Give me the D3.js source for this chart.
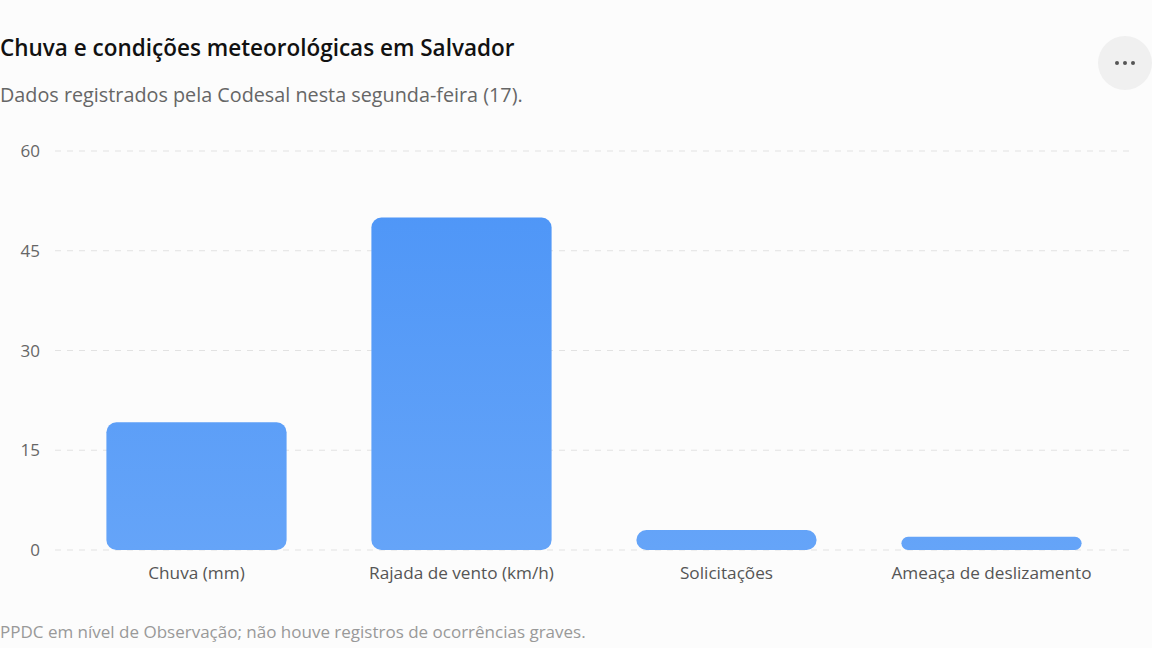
<!DOCTYPE html>
<html><head><meta charset="utf-8">
<script src="https://cdn.jsdelivr.net/npm/d3@7"></script>
<style>
body{margin:0;background:#fcfcfc;font-family:"Open Sans","Noto Sans",sans-serif}
</style></head>
<body><svg id="chart" width="1152" height="648"></svg>
<script>
const categories = ['Chuva (mm)', 'Rajada de vento (km/h)', 'Solicitações', 'Ameaça de deslizamento']
const values = [19.2, 50, 3, 2]
const yTicks = [0, 15, 30, 45, 60]

const svg = d3.select('#chart')
svg.append('rect').attr('width', 1152).attr('height', 648).attr('fill', '#fcfcfc')

const x = d3.scaleBand().domain(categories).range([64, 1124]).paddingInner(0.32).paddingOuter(0.16)
const y = d3.scaleLinear().domain([0, 60]).range([550, 151])

const grad = svg.append('defs').append('linearGradient').attr('id', 'barGrad')
    .attr('gradientUnits', 'userSpaceOnUse').attr('x1', 0).attr('x2', 0).attr('y1', 151).attr('y2', 550)
grad.append('stop').attr('offset', 0).attr('stop-color', '#4b94f7')
grad.append('stop').attr('offset', 1).attr('stop-color', '#65a4f8')

svg.append('text').attr('x', 0).attr('y', 56).text('Chuva e condições meteorológicas em Salvador')
    .style('font-size', '22.5px').style('font-weight', 600).style('fill', '#111')
svg.append('text').attr('x', 0).attr('y', 102).text('Dados registrados pela Codesal nesta segunda-feira (17).')
    .style('font-size', '19.8px').style('fill', '#666')

svg.append('circle').attr('cx', 1125).attr('cy', 63).attr('r', 27).attr('fill', '#f0f0f0')
;[-8, 0, 8].forEach(d => svg.append('circle').attr('cx', 1125 + d).attr('cy', 63).attr('r', 2).attr('fill', '#555'))

svg.selectAll('.grid').data(yTicks).enter().append('line')
    .attr('x1', 55).attr('x2', 1132).attr('y1', d => y(d)).attr('y2', d => y(d))
    .style('stroke', '#e2e2e2').style('stroke-dasharray', '6,6')
svg.selectAll('.ytick').data(yTicks).enter().append('text')
    .attr('x', 40).attr('y', d => y(d) + 6).attr('text-anchor', 'end').text(d => d)
    .style('font-size', '17px').style('fill', '#666')

svg.selectAll('.bar').data(values).enter().append('rect')
    .attr('x', (d, i) => x(categories[i])).attr('width', x.bandwidth())
    .attr('y', d => y(d)).attr('height', d => y(0) - y(d))
    .attr('rx', d => Math.min(10, (y(0) - y(d)) / 2))
    .attr('fill', 'url(#barGrad)')

svg.selectAll('.xlab').data(categories).enter().append('text')
    .attr('x', d => x(d) + x.bandwidth() / 2).attr('y', 579).attr('text-anchor', 'middle').text(d => d)
    .style('font-size', '17.2px').style('fill', '#555')

svg.append('text').attr('x', 0).attr('y', 638).text('PPDC em nível de Observação; não houve registros de ocorrências graves.')
    .style('font-size', '17px').style('fill', '#999')
</script></body></html>
